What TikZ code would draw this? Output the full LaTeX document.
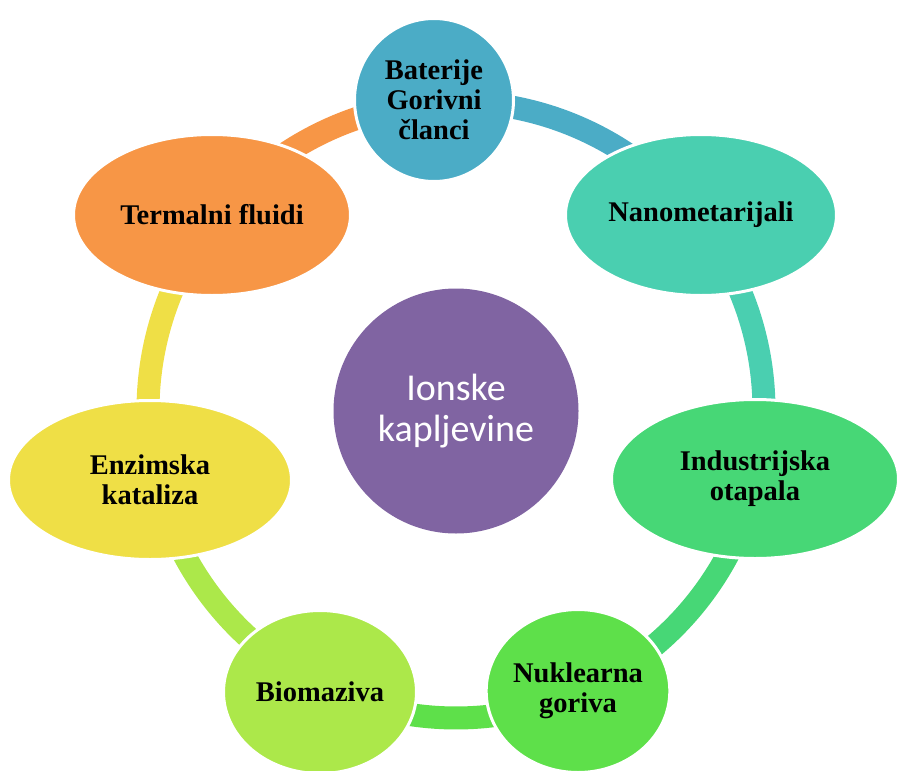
\documentclass[tikz,border=0pt]{standalone}
\usepackage{fontspec}
\setmainfont{Liberation Serif}
\newfontfamily\calib{Carlito}
\usetikzlibrary{shapes.geometric}
\definecolor{cBat}{HTML}{4BACC6}
\definecolor{cNano}{HTML}{4ACFB0}
\definecolor{cInd}{HTML}{47D776}
\definecolor{cNuk}{HTML}{5EE04A}
\definecolor{cBio}{HTML}{ACE84A}
\definecolor{cEnz}{HTML}{EFDF46}
\definecolor{cTer}{HTML}{F79646}
\definecolor{cCen}{HTML}{8064A2}
\begin{document}
\begin{tikzpicture}[x=1pt,y=-1pt,
  outer/.style={ellipse, draw=white, line width=3pt, inner sep=0pt, align=center,
    font=\fontsize{28.5}{30}\selectfont\bfseries, text=black},
  band/.style={line width=23pt}]
\useasboundingbox (0,0) rectangle (897,771);
\coordinate (o) at (456,410);
% ring segments
\draw[band, cBat]  (o) ++(-94:308)   arc[start angle=-94,   end angle=-38.5, radius=308];
\draw[band, cNano] (o) ++(-38.5:308) arc[start angle=-38.5, end angle=13.2,  radius=308];
\draw[band, cInd]  (o) ++(13.2:308)  arc[start angle=13.2,  end angle=66.5,  radius=308];
\draw[band, cNuk]  (o) ++(66.5:308)  arc[start angle=66.5,  end angle=115.7, radius=308];
\draw[band, cBio]  (o) ++(115.7:308) arc[start angle=115.7, end angle=167.1, radius=308];
\draw[band, cEnz]  (o) ++(167.1:308) arc[start angle=167.1, end angle=218.6, radius=308];
\draw[band, cTer]  (o) ++(218.6:308) arc[start angle=218.6, end angle=266,   radius=308];
% centre
\node[circle, fill=cCen, minimum size=245pt, inner sep=0pt, align=center, text=white,
  font=\calib\fontsize{38}{41}\selectfont] (c) at (456,411) {Ionske\\kapljevine};
% outer nodes
\node[outer, fill=cBat, minimum width=159pt, minimum height=163pt] (bat) at (434,100) {Baterije\\Gorivni\\članci};
\node[outer, fill=cNano, minimum width=271pt, minimum height=161pt] (nano) at (701,215) {Nanometarijali};
\node[outer, fill=cInd, minimum width=287pt, minimum height=159pt] (ind) at (755,479) {Industrijska\\otapala};
\node[outer, fill=cNuk, minimum width=163pt, minimum height=163pt] (nuk) at (578,691) {Nuklearna\\goriva};
\node[outer, fill=cBio, minimum width=193pt, minimum height=163pt] (bio) at (320,692) {Biomaziva};
\node[outer, fill=cEnz, minimum width=283pt, minimum height=159pt] (enz) at (150,480) {Enzimska\\kataliza};
\node[outer, fill=cTer, minimum width=277pt, minimum height=161pt] (ter) at (212,215) {Termalni fluidi};
\end{tikzpicture}
\end{document}
